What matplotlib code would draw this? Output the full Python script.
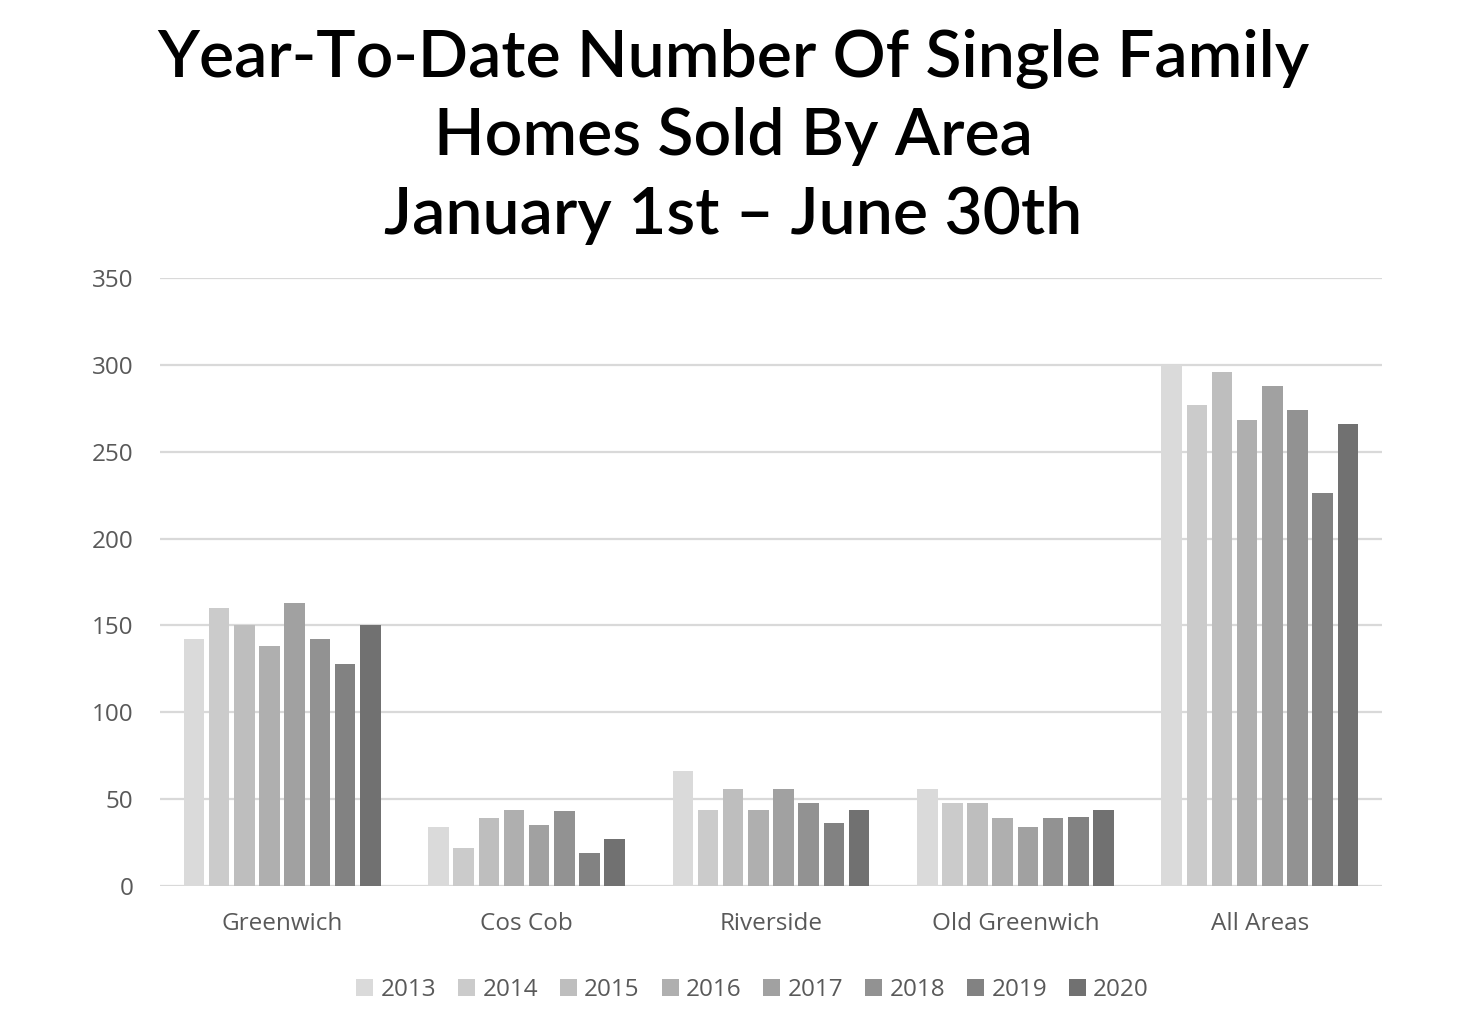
import matplotlib
matplotlib.use("Agg")
import matplotlib.pyplot as plt
import numpy as np

areas = ["Greenwich", "Cos Cob", "Riverside", "Old Greenwich", "All Areas"]
years = ["2013", "2014", "2015", "2016", "2017", "2018", "2019", "2020"]

# homes sold per area, one list per year
sold = {
    "2013": [142, 34, 66, 56, 300],
    "2014": [160, 22, 44, 48, 277],
    "2015": [150, 39, 56, 48, 296],
    "2016": [138, 44, 44, 39, 268],
    "2017": [163, 35, 56, 34, 288],
    "2018": [142, 43, 48, 39, 274],
    "2019": [128, 19, 36, 40, 226],
    "2020": [150, 27, 44, 44, 266],
}

colors = ["#dadada", "#cbcbcb", "#bebebe", "#afafaf", "#a1a1a1",
          "#929292", "#828282", "#717171"]

fig = plt.figure(figsize=(14.7, 10.28), dpi=100)
ax = fig.add_axes([0.1088, 0.1381, 0.8313, 0.5915])

slot = 0.103
bar_w = 0.084
x = np.arange(len(areas))
for i, yr in enumerate(years):
    off = (i - (len(years) - 1) / 2) * slot
    ax.bar(x + off, sold[yr], bar_w, color=colors[i], label=yr, zorder=3)

ax.set_ylim(0, 350)
ax.set_xlim(-0.5, len(areas) - 0.5)
ax.set_yticks(range(0, 351, 50))
ax.yaxis.grid(True, color="#d9d9d9", linewidth=1.6, zorder=0)
for s in ax.spines.values():
    s.set_visible(False)
ax.tick_params(axis="both", length=0, labelsize=17.5, labelcolor="#595959")
ax.tick_params(axis="y", pad=19)
ax.tick_params(axis="x", pad=19)
ax.set_xticks(x)
ax.set_xticklabels(areas)
for lab in ax.get_xticklabels() + ax.get_yticklabels():
    lab.set_family("Open Sans")

leg = ax.legend(loc="upper center", bbox_to_anchor=(0.485, -0.115), ncol=8,
                frameon=False, handlelength=0.7, handleheight=0.7,
                handletextpad=0.3, columnspacing=0.9,
                prop={"family": "Open Sans", "size": 17.5})
for t in leg.get_texts():
    t.set_color("#595959")

title_kw = dict(ha="center", va="center", fontsize=47.5, family="Lato", fontweight="semibold")
fig.text(0.4986, 0.943, "Year-To-Date Number Of Single Family", **title_kw)
fig.text(0.4986, 0.867, "Homes Sold By Area", **title_kw)
fig.text(0.4986, 0.790, "January 1st \u2013 June 30th", **title_kw)

fig.savefig("out.png", dpi=100)
